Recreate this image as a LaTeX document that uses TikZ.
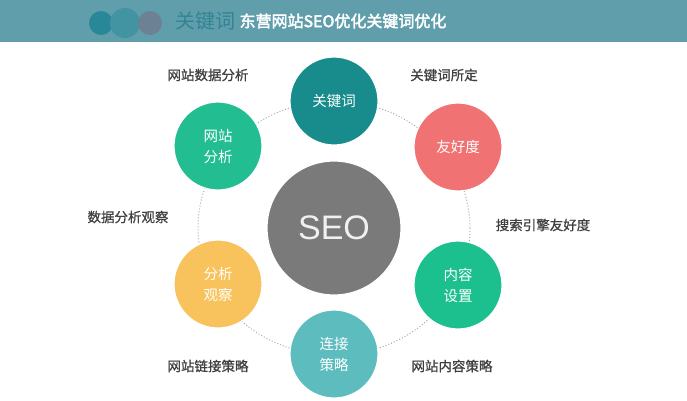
\documentclass[tikz,border=0pt]{standalone}
\usepackage{fontspec}
\setmainfont{Noto Sans CJK SC}
\newfontfamily\titlefont{Noto Sans CJK SC}[FakeBold=2.5]
\newfontfamily\tagfont{Noto Sans CJK SC}[FakeBold=0.8]
\newfontfamily\seofont{Liberation Sans}

\begin{document}
\begin{tikzpicture}[x=1pt,y=-1pt,
    ball/.style={circle,minimum size=88pt,inner sep=0pt,draw=white,line width=1.2pt,
      text=white,align=center,font=\fontsize{14.5}{21}\selectfont},
    tag/.style={text=black!75,font=\tagfont\fontsize{13.5}{16}\selectfont,inner sep=0pt}]
  \useasboundingbox (0,0) rectangle (687,400);
  \fill[white] (0,0) rectangle (687,400);
  % header
  \fill[fill={rgb,255:red,96;green,158;blue,172}] (0,0) rectangle (687,42);
  \fill[fill={rgb,255:red,40;green,136;blue,152}] (101,23) circle (12);
  \fill[fill={rgb,255:red,66;green,148;blue,162}] (125,23) circle (15);
  \fill[fill={rgb,255:red,108;green,130;blue,148}] (150,23) circle (12);
  \node[anchor=west,inner sep=0pt,text={rgb,255:red,50;green,132;blue,148},
    font=\fontsize{20}{22}\selectfont] (ghost) at (175,21) {关键词};
  \node[text=white,inner sep=0pt,font=\titlefont\fontsize{16}{18}\selectfont] (title) at (343,21) {东营网站SEO优化关键词优化};
  % ring
  \draw[dotted,line width=1pt,gray!65] (334,228) ellipse [x radius=136,y radius=127];
  % circles
  \node[ball,minimum size=134pt,fill={rgb,255:red,122;green,122;blue,122},
    font=\seofont\fontsize{34}{36}\selectfont,text=white!94!black] (seo) at (334,228) {SEO};
  \node[ball,fill={rgb,255:red,24;green,140;blue,140}] (kw) at (334,101) {关键词};
  \node[ball,fill={rgb,255:red,241;green,114;blue,114}] (friend) at (458,147) {友好度};
  \node[ball,fill={rgb,255:red,34;green,190;blue,146}] (ana) at (218,146) {网站\\分析};
  \node[ball,fill={rgb,255:red,248;green,194;blue,92}] (obs) at (218,284) {分析\\观察};
  \node[ball,fill={rgb,255:red,28;green,192;blue,142}] (cont) at (458,285) {内容\\设置};
  \node[ball,fill={rgb,255:red,92;green,188;blue,190}] (link) at (334,354) {连接\\策略};
  % labels
  \node[tag] (l1) at (208,75) {网站数据分析};
  \node[tag] (l2) at (444,75) {关键词所定};
  \node[tag] (l3) at (128,217) {数据分析观察};
  \node[tag] (l4) at (543,225) {搜索引擎友好度};
  \node[tag] (l5) at (208,366) {网站链接策略};
  \node[tag] (l6) at (452,366) {网站内容策略};
\end{tikzpicture}
\end{document}
